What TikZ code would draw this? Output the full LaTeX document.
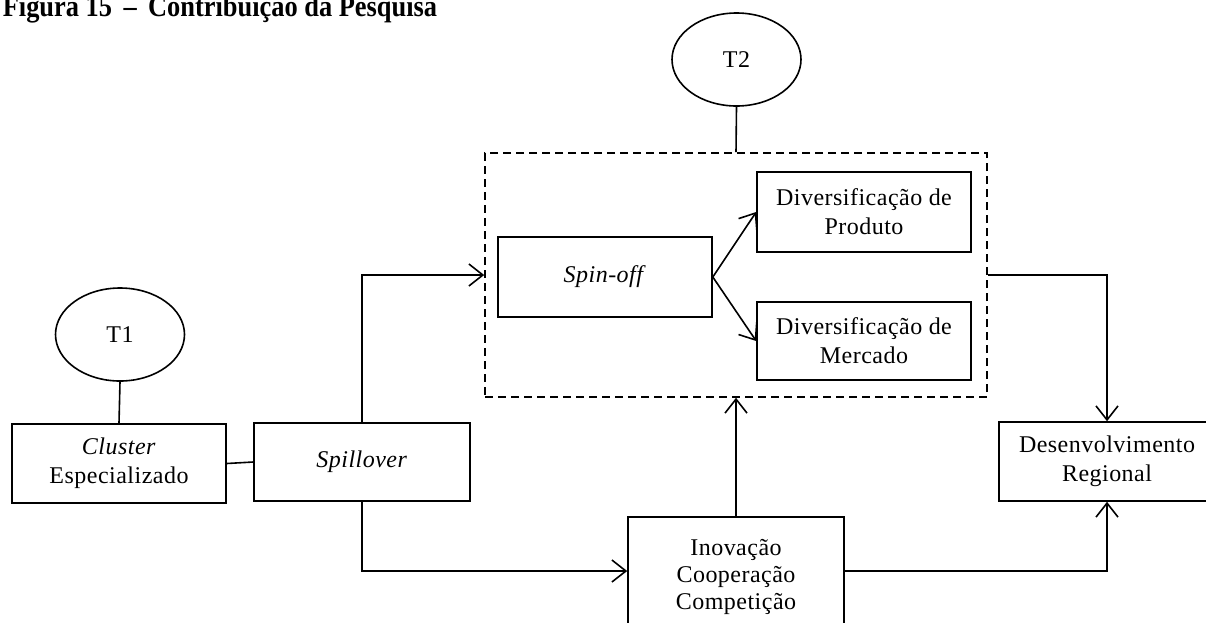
\documentclass[tikz,border=0pt]{standalone}
\usepackage{fontspec}
\setmainfont{Liberation Serif}[LetterSpace=2]
\newfontfamily\captionfont{Liberation Serif}
\usetikzlibrary{arrows.meta,shapes.geometric,calc}
\begin{document}
\begin{tikzpicture}[x=1pt,y=-1pt,
  line width=1.6pt,
  every node/.style={font=\fontsize{24}{29}\selectfont},
  box/.style={draw,rectangle,align=center,inner sep=0pt,
    minimum width=214pt,minimum height=79pt},
  theme/.style={draw,ellipse,inner sep=0pt,minimum width=129pt,minimum height=93pt},
  group/.style={draw,dashed,dash pattern=on 8pt off 5pt,inner sep=0pt,
    minimum width=502pt,minimum height=244pt},
  link/.style={-{Straight Barb[length=14pt,width=22pt,line width=1.6pt]}},
  plain/.style={-}]
\useasboundingbox (0,0) rectangle (1206,622);
\clip (0,0) rectangle (1206,622);

% caption line across the top edge
\node[anchor=base west,inner sep=0pt,font=\captionfont\fontsize{30}{34}\selectfont\bfseries]
  (caption) at (2,16) {\scalebox{0.88}[1]{Figura 15\hspace{13pt}–\hspace{13pt}Contribuição da Pesquisa}};

% themes
\node[theme] (t1) at (120,334.5) {T1};
\node[theme] (t2) at (736.5,59.5) {T2};

% left chain
\node[box] (cluster) at (119,463.5) {\textit{Cluster}\\Especializado};
\node[box,minimum width=216pt,minimum height=78pt] (spill) at (362,462) {\textit{Spillover}};

% dashed group with spin-off and diversification
\node[group] (grp) at (736,275) {};
\node[box,minimum height=80pt] (spin) at (605,277) {\textit{Spin-off}};
\node[box,minimum height=80pt] (prod) at (864,212) {Diversificação de\\Produto};
\node[box,minimum height=78pt] (merc) at (864,341) {Diversificação de\\Mercado};

% lower and right boxes (the lower box runs past the bottom edge)
\node[box,minimum width=216pt,minimum height=108pt] (inov) at (736,571)
  {\raisebox{-6pt}[\height][\depth]{\begin{tabular}{@{}c@{}}Inovação\\[-2pt]Cooperação\\[-2pt]Competição\end{tabular}}};
\node[box,minimum width=216pt] (desenv) at (1107,461.5) {Desenvolvimento\\Regional};

% connectors
\draw[plain] (t1.south) -- (cluster.north);
\draw[plain] (t2.south) -- (grp.north);
\draw[plain] (cluster.east) -- (spill.west);
\draw[link] (spill.north) |- (grp.west);
\draw[link] (spill.south) |- (inov.west);
\draw[link] (spin.east) -- (prod.west);
\draw[link] (spin.east) -- (merc.west);
\draw[link] (inov.north) -- (grp.south);
\draw[link] (inov.east) -| (desenv.south);
\draw[link] (grp.east) -| (desenv.north);
\end{tikzpicture}
\end{document}
